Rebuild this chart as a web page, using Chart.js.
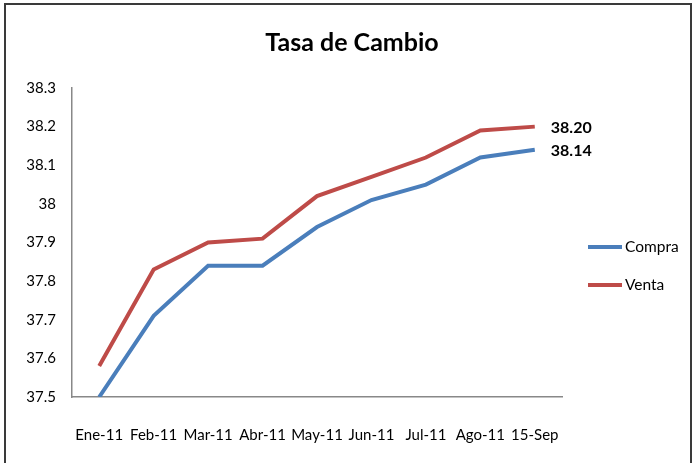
<!DOCTYPE html>
<html>
<head>
<meta charset="utf-8">
<title>Tasa de Cambio</title>
<script src="https://cdn.jsdelivr.net/npm/chart.js@4"></script>
<style>
  html, body { margin: 0; padding: 0; background: #fff; }
  #wrap { position: relative; width: 693px; height: 463px; overflow: hidden; }
  #frame {
    position: absolute; left: 4px; top: 3px; width: 684px; height: 480px;
    border: 2px solid #3a3a3a; pointer-events: none;
  }
  canvas { position: absolute; left: 0; top: 0; }
</style>
</head>
<body>
<div id="wrap">
  <canvas id="myChart" width="693" height="463"></canvas>
  <div id="frame"></div>
</div>
<script>
// data
const months = ["Ene-11", "Feb-11", "Mar-11", "Abr-11", "May-11", "Jun-11", "Jul-11", "Ago-11", "15-Sep"];
const compra = [37.50, 37.71, 37.84, 37.84, 37.94, 38.01, 38.05, 38.12, 38.14];
const venta  = [37.58, 37.83, 37.90, 37.91, 38.02, 38.07, 38.12, 38.19, 38.20];
const chartTitle = "Tasa de Cambio";

const FONT = "Lato, 'Open Sans', sans-serif";

// title, labels for the last point of each line, and the legend on the right
const decorations = {
    id: "decorations",
    afterDatasetsDraw(chart) {
        const ctx = chart.ctx;
        ctx.save();
        ctx.fillStyle = "#000";
        ctx.textBaseline = "middle";

        // title (Excel centres it a bit right of the plot)
        ctx.font = "bold 25px " + FONT;
        ctx.textAlign = "center";
        ctx.fillText(chartTitle, 352, 43);

        ctx.font = "bold 16px " + FONT;
        ctx.textAlign = "left";
        chart.data.datasets.forEach((ds, i) => {
            const meta = chart.getDatasetMeta(i);
            const last = meta.data[meta.data.length - 1];
            const v = ds.data[ds.data.length - 1];
            ctx.fillText(v.toFixed(2), last.x + 16, last.y + 1);
        });

        // legend
        ctx.font = "15.5px " + FONT;
        const lx = chart.chartArea.right + 26;
        chart.data.datasets.forEach((ds, i) => {
            const y = 247 + i * 38;
            ctx.strokeStyle = ds.borderColor;
            ctx.lineWidth = 4;
            ctx.beginPath();
            ctx.moveTo(lx, y);
            ctx.lineTo(lx + 34, y);
            ctx.stroke();
            ctx.fillText(ds.label, lx + 37, y);
        });
        ctx.restore();
    }
};

new Chart(document.getElementById("myChart"), {
    type: "line",
    data: {
        labels: months,
        datasets: [
            { label: "Compra", data: compra, borderColor: "#4A7EBB", borderWidth: 4, pointRadius: 0, tension: 0 },
            { label: "Venta", data: venta, borderColor: "#BE4B48", borderWidth: 4, pointRadius: 0, tension: 0 }
        ]
    },
    options: {
        responsive: false,
        animation: false,
        layout: { padding: { left: 0, right: 131, top: 88, bottom: 0 } },
        plugins: {
            legend: { display: false },
            tooltip: { enabled: false },
            title: { display: false }
        },
        scales: {
            x: {
                offset: true,
                grid: { display: false, drawTicks: false },
                border: { color: "#888", width: 1.5 },
                ticks: { color: "#000", font: { family: FONT, size: 15 }, padding: 29, maxRotation: 0, autoSkip: false },
                afterFit(scale) { scale.height = 66; }
            },
            y: {
                min: 37.5,
                max: 38.3,
                grid: { display: false, drawTicks: false },
                border: { color: "#888", width: 1.5 },
                ticks: {
                    stepSize: 0.1,
                    color: "#000",
                    font: { family: FONT, size: 15 },
                    padding: 16,
                    callback: v => String(Math.round(v * 10) / 10)
                },
                afterFit(scale) { scale.width = 72; }
            }
        }
    },
    plugins: [decorations]
});
</script>
</body>
</html>
